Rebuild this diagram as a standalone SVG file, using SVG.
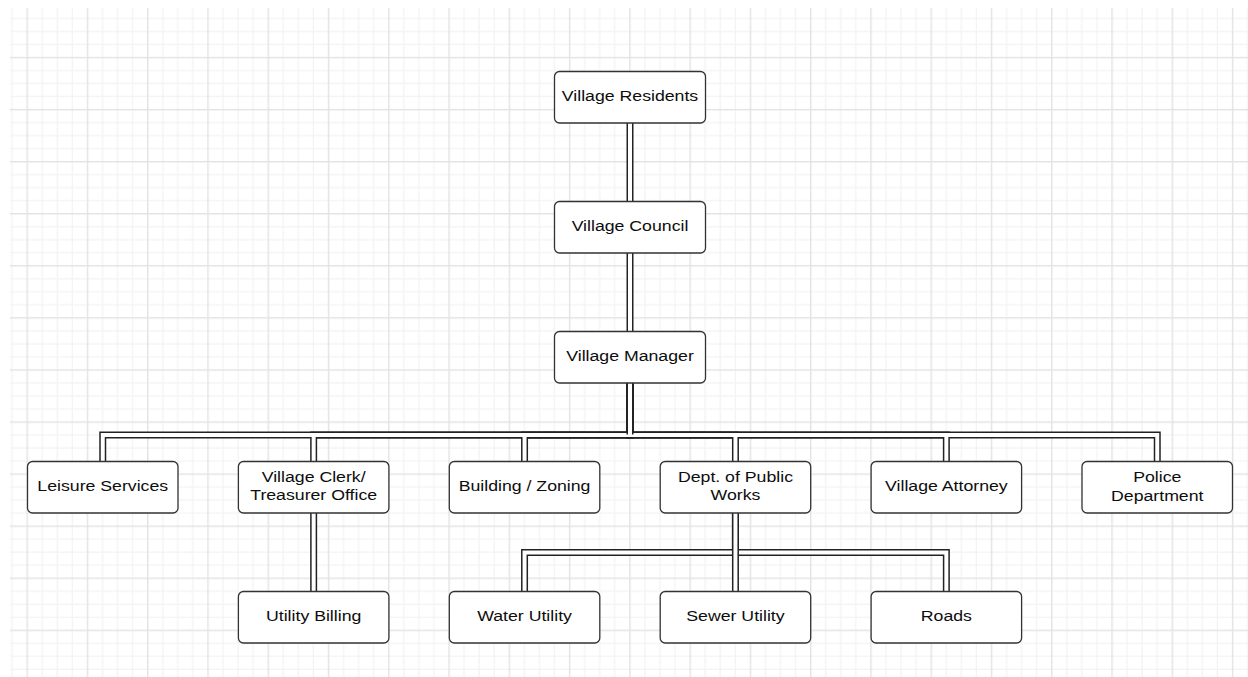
<svg xmlns="http://www.w3.org/2000/svg" width="1248" height="677" viewBox="0 0 1248 677">
  <defs>
    <pattern id="grid" patternUnits="userSpaceOnUse" x="26.48" y="4.78" width="60.27" height="52.07">
      <g fill="#f3f3f3">
        <rect x="15.07" y="0" width="1.3" height="52.07"/>
        <rect x="30.13" y="0" width="1.3" height="52.07"/>
        <rect x="45.2" y="0" width="1.3" height="52.07"/>
        <rect x="0" y="13.02" width="60.27" height="1.3"/>
        <rect x="0" y="26.03" width="60.27" height="1.3"/>
        <rect x="0" y="39.05" width="60.27" height="1.3"/>
      </g>
      <g fill="#e3e3e3">
        <rect x="0" y="0" width="1.4" height="52.07"/>
        <rect x="0" y="0" width="60.27" height="1.4"/>
      </g>
    </pattern>
    <style>
      .box { fill: #ffffff; stroke: #333333; stroke-width: 1.3; }
      .t { font-family: "Liberation Sans", Arial, sans-serif; font-size: 15.4px; fill: #0d0d0d; text-anchor: middle; }
      .eo { fill: none; stroke: #222222; stroke-width: 7; stroke-linejoin: miter; stroke-linecap: butt; }
      .ei { fill: none; stroke: #ffffff; stroke-width: 4; stroke-linejoin: miter; stroke-linecap: butt; }
      .stub { fill: none; stroke: #222222; stroke-width: 1.5; }
    </style>
  </defs>

  <rect x="0" y="0" width="1248" height="677" fill="#ffffff"/>
  <rect x="10" y="8" width="1238" height="669" fill="url(#grid)"/>

  <g id="connectors">
    <g class="eo">
      <path d="M630,122.5 V201.5"/>
      <path d="M630,252.5 V331.5"/>
      <path d="M630,382.5 V435 H102.75 V461.5"/>
      <path d="M630,382.5 V435 H313.65 V461.5"/>
      <path d="M630,382.5 V435 H524.55 V461.5"/>
      <path d="M630,382.5 V435 H735.45 V461.5"/>
      <path d="M630,382.5 V435 H946.35 V461.5"/>
      <path d="M630,382.5 V435 H1157.25 V461.5"/>
      <path d="M313.65,512.5 V591.5"/>
      <path d="M735.45,512.5 V552.5 H524.55 V591.5"/>
      <path d="M735.45,512.5 V552.5 H946.35 V591.5"/>
    </g>
    <g class="ei">
      <path d="M630,122.5 V201.5"/>
      <path d="M630,252.5 V331.5"/>
      <path d="M630,382.5 V435 H102.75 V461.5"/>
      <path d="M630,382.5 V435 H313.65 V461.5"/>
      <path d="M630,382.5 V435 H524.55 V461.5"/>
      <path d="M630,382.5 V435 H735.45 V461.5"/>
      <path d="M630,382.5 V435 H946.35 V461.5"/>
      <path d="M630,382.5 V435 H1157.25 V461.5"/>
      <path d="M313.65,512.5 V591.5"/>
      <path d="M735.45,512.5 V552.5 H524.55 V591.5"/>
      <path d="M735.45,512.5 V552.5 H946.35 V591.5"/>
    </g>
    <path class="stub" d="M627.25,431 V434.5 M632.75,431 V434.5"/>
    <path class="eo" d="M735.45,512.5 V591.5"/>
    <path class="ei" d="M735.45,512.5 V591.5"/>
  </g>

  <g id="node-residents">
    <rect class="box" x="554.5" y="71.5" width="151" height="51.5" rx="5"/>
    <text class="t" transform="translate(630,101) scale(1.15,1)">Village Residents</text>
  </g>
  <g id="node-council">
    <rect class="box" x="554.5" y="201.5" width="151" height="51.5" rx="5"/>
    <text class="t" transform="translate(630,231) scale(1.15,1)">Village Council</text>
  </g>
  <g id="node-manager">
    <rect class="box" x="554.5" y="331.5" width="151" height="51.5" rx="5"/>
    <text class="t" transform="translate(630,361) scale(1.15,1)">Village Manager</text>
  </g>

  <g id="node-leisure">
    <rect class="box" x="27.5" y="461.5" width="150.5" height="51.5" rx="5"/>
    <text class="t" transform="translate(102.75,491) scale(1.15,1)">Leisure Services</text>
  </g>
  <g id="node-clerk">
    <rect class="box" x="238.4" y="461.5" width="150.5" height="51.5" rx="5"/>
    <text class="t" transform="translate(313.65,481.5) scale(1.15,1)"><tspan x="0" y="0">Village Clerk/</tspan><tspan x="0" y="19">Treasurer Office</tspan></text>
  </g>
  <g id="node-building">
    <rect class="box" x="449.3" y="461.5" width="150.5" height="51.5" rx="5"/>
    <text class="t" transform="translate(524.55,491) scale(1.15,1)">Building / Zoning</text>
  </g>
  <g id="node-publicworks">
    <rect class="box" x="660.2" y="461.5" width="150.5" height="51.5" rx="5"/>
    <text class="t" transform="translate(735.45,481.5) scale(1.15,1)"><tspan x="0" y="0">Dept. of Public</tspan><tspan x="0" y="19">Works</tspan></text>
  </g>
  <g id="node-attorney">
    <rect class="box" x="871.1" y="461.5" width="150.5" height="51.5" rx="5"/>
    <text class="t" transform="translate(946.35,491) scale(1.15,1)">Village Attorney</text>
  </g>
  <g id="node-police">
    <rect class="box" x="1082" y="461.5" width="150.5" height="51.5" rx="5"/>
    <text class="t" transform="translate(1157.25,482) scale(1.15,1)"><tspan x="0" y="0">Police</tspan><tspan x="0" y="19">Department</tspan></text>
  </g>

  <g id="node-billing">
    <rect class="box" x="238.4" y="591.5" width="150.5" height="51.5" rx="5"/>
    <text class="t" transform="translate(313.65,621) scale(1.15,1)">Utility Billing</text>
  </g>
  <g id="node-water">
    <rect class="box" x="449.3" y="591.5" width="150.5" height="51.5" rx="5"/>
    <text class="t" transform="translate(524.55,621) scale(1.15,1)">Water Utility</text>
  </g>
  <g id="node-sewer">
    <rect class="box" x="660.2" y="591.5" width="150.5" height="51.5" rx="5"/>
    <text class="t" transform="translate(735.45,621) scale(1.15,1)">Sewer Utility</text>
  </g>
  <g id="node-roads">
    <rect class="box" x="871.1" y="591.5" width="150.5" height="51.5" rx="5"/>
    <text class="t" transform="translate(946.35,621) scale(1.15,1)">Roads</text>
  </g>
</svg>
